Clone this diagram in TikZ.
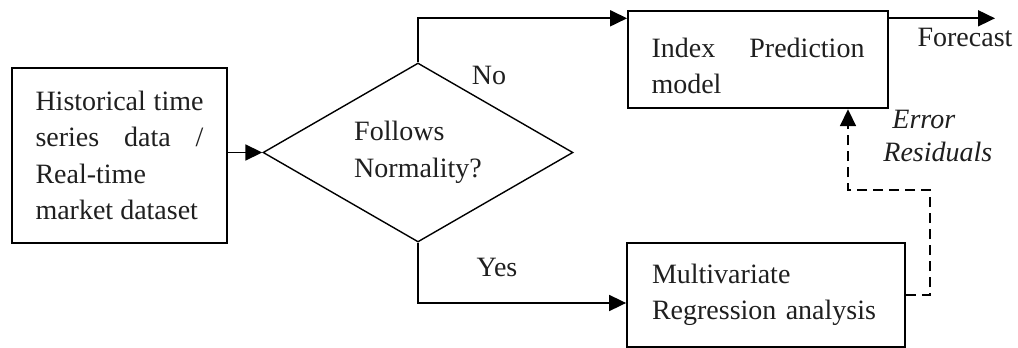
\documentclass[tikz,border=0pt]{standalone}
\usepackage{fontspec}
\setmainfont{Liberation Serif}
\usetikzlibrary{arrows.meta,shapes.geometric}
\tolerance=10000
\hbadness=10000
\hyphenpenalty=10000
\begin{document}
\begin{tikzpicture}[x=0.5pt,y=-0.5pt,
  every node/.style={font=\fontsize{14pt}{18.3pt}\selectfont, text=black!88},
  box/.style={draw, line width=0.9pt, inner sep=0pt},
  decision/.style={draw, diamond, aspect=1.73, inner sep=0pt, line width=0.7pt,
                   minimum width=155pt, minimum height=89.5pt, align=left},
  flow/.style={line width=0.9pt, -{Triangle[length=8.5pt,width=8pt]}},
  feedback/.style={flow, dash pattern=on 5pt off 3pt},
  lbl/.style={inner sep=0pt}
]
\useasboundingbox (0,0) rectangle (1018,348);

\node[box, minimum width=107.5pt, minimum height=87.5pt, text width=84pt, align=justify]
  (src) at (119.5,155.5) {\hyphenpenalty=10000 Historical time\linebreak series data /\linebreak Real-time\\market dataset};
\node[decision] (dec) at (418,152.5) {Follows\\Normality?};
\node[box, minimum width=130pt, minimum height=48.8pt, text width=106.5pt, align=justify]
  (idx) at (758,59.5) {\rule{0pt}{16pt}Index Prediction\linebreak model};
\node[box, minimum width=139pt, minimum height=52pt, text width=114pt, align=left]
  (mvr) at (766,295) {Multivariate\\\mbox{Regression analysis}};

\node[lbl] (no) at (489,75) {No};
\node[lbl] (yes) at (497,267) {Yes};
\node[lbl] (fct) at (965,37) {Forecast};
\node[lbl, anchor=west, align=left, font=\fontsize{14pt}{16.5pt}\selectfont\itshape]
  (err) at (883,136) {\hspace*{4.5pt}Error\\Residuals};

\coordinate (ntop) at (418,18.3);
\coordinate (nbot) at (418,303);
\coordinate (fc) at (995,18.3);
\coordinate (ec) at (930,190);
\coordinate (eb) at (848,190);

\draw[flow] (dec.west -| src.east) -- (dec.west);
\draw[flow] (dec.north) -- (ntop) -- (ntop -| idx.west);
\draw[flow] (dec.south) -- (nbot) -- (nbot -| mvr.west);
\draw[flow] (fc -| idx.east) -- (fc);
\draw[feedback] (mvr.east) -| (ec) -- (eb) -- (eb |- idx.south);
\end{tikzpicture}
\end{document}
